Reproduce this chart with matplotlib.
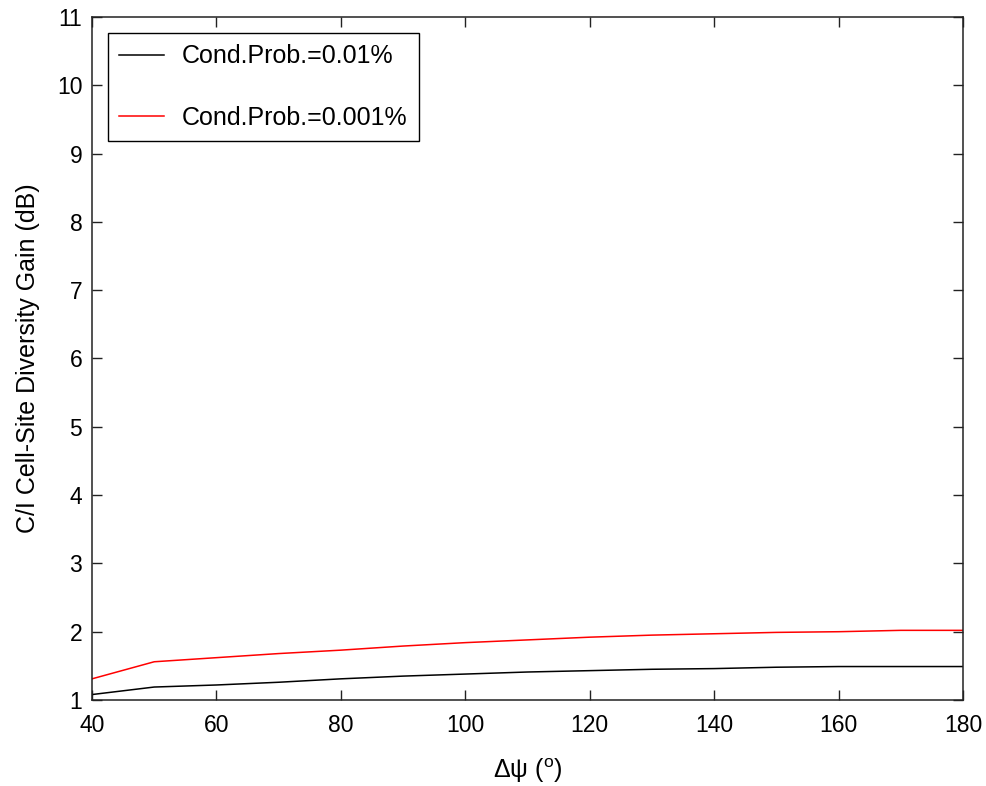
import matplotlib
matplotlib.use("Agg")
import matplotlib.pyplot as plt

# Separation angle between the two cells (degrees)
delta_psi = [40, 50, 60, 70, 80, 90, 100, 110, 120, 130, 140, 150, 160, 170, 180]

# C/I cell-site diversity gain (dB) for two conditional probabilities
gain_001 = [1.08, 1.19, 1.22, 1.26, 1.31, 1.35, 1.38, 1.41, 1.43, 1.45, 1.46, 1.48, 1.49, 1.49, 1.49]
gain_0001 = [1.31, 1.56, 1.62, 1.68, 1.73, 1.79, 1.84, 1.88, 1.92, 1.95, 1.97, 1.99, 2.00, 2.02, 2.02]

series_labels = ["Cond.Prob.=0.01%", "Cond.Prob.=0.001%"]
x_ticks = [40, 60, 80, 100, 120, 140, 160, 180]
y_ticks = list(range(1, 12))

plt.rcParams["font.family"] = ["Liberation Sans", "DejaVu Sans"]
plt.rcParams["mathtext.fontset"] = "custom"
plt.rcParams["mathtext.rm"] = "Liberation Sans"
plt.rcParams["mathtext.it"] = "Liberation Sans"
plt.rcParams["mathtext.bf"] = "Liberation Sans"
fs = 16.5

fig = plt.figure(figsize=(9.87, 7.86), dpi=100)
ax = fig.add_axes([0.0932, 0.1094, 0.8825, 0.869])

ax.plot(delta_psi, gain_001, color="black", lw=1.1, label=series_labels[0])
ax.plot(delta_psi, gain_0001, color="red", lw=1.1, label=series_labels[1])

ax.set_xlim(40, 180)
ax.set_ylim(1, 11)
ax.set_xticks(x_ticks)
ax.set_yticks(y_ticks)
ax.tick_params(direction="in", length=7, width=1.0, top=True, right=True,
               labelsize=fs, color="#222222")
ax.tick_params(axis="x", pad=10)
ax.tick_params(axis="y", pad=7)
for sp in ax.spines.values():
    sp.set_linewidth(1.1)
    sp.set_color("#222222")

ax.set_ylabel("C/I Cell-Site Diversity Gain (dB)", fontsize=18, labelpad=12)
ax.set_xlabel(r"$\Delta\psi\ (^{\mathrm{o}})$", fontsize=18, labelpad=14)

leg = ax.legend(loc="upper left", fontsize=18, frameon=True, fancybox=False,
                framealpha=1, edgecolor="black", labelspacing=1.5,
                handlelength=1.8, handletextpad=0.7, borderpad=0.45,
                borderaxespad=0.65)
leg.get_frame().set_linewidth(1.0)

fig.savefig("out.png", dpi=100)
